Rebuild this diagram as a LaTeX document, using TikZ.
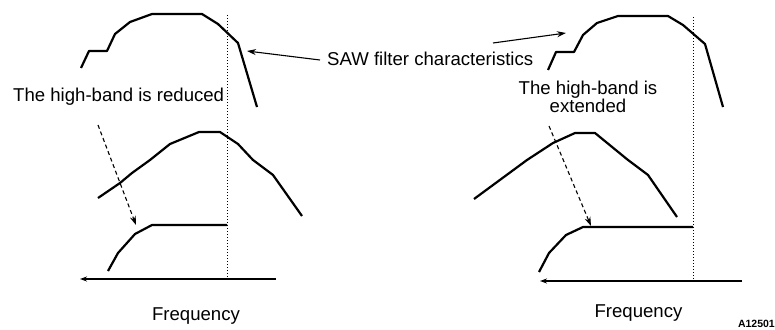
\documentclass[tikz,border=0pt]{standalone}
\usepackage{fontspec}
\setmainfont{Liberation Sans}
\usetikzlibrary{arrows.meta}
\begin{document}
\begin{tikzpicture}[x=1pt,y=-1pt,
  curve/.style={line width=2.2pt,line join=round},
  vline/.style={line width=1pt,dotted},
  axis/.style={line width=1.2pt,-{Stealth[length=7pt,width=5pt]}},
  ptr/.style={line width=1.1pt,-{Stealth[length=9pt,width=6pt]}},
  dptr/.style={line width=1.1pt,dashed,dash pattern=on 4pt off 3pt,-{Stealth[length=9pt,width=6pt]}},
  lbl/.style={font=\fontsize{18.6}{21}\selectfont,inner sep=0pt}]
\useasboundingbox (0,0) rectangle (775,329);
% ---------- left panel ----------
\draw[curve] (81,68) -- (89,51) -- (107,51) -- (115,34) -- (130,22) -- (152,14) -- (202,14) -- (218,24) -- (238,43) -- (257,107);
\draw[curve] (98,198) -- (120,183) -- (132,173) -- (150,160) -- (170,144) -- (199,132) -- (220,132) -- (238,144) -- (253,160) -- (273,175) -- (302,216);
\draw[curve] (108,271) -- (118,253) -- (135,234) -- (152,225) -- (227,225);
\coordinate (LaxR) at (276,279);
\coordinate (LaxL) at (80,279);
\draw[axis] (LaxR) -- (LaxL);
\coordinate (LvT) at (227,15);
\coordinate (LvB) at (227,279);
\draw[vline] (LvT) -- (LvB);
% ---------- right panel ----------
\draw[curve] (548,70) -- (556,52) -- (574,52) -- (583,35) -- (597,23) -- (618,16) -- (668,16) -- (683,25) -- (705,44) -- (723,107);
\draw[curve] (474,199) -- (527,160) -- (553,143) -- (575,133) -- (595,133) -- (628,160) -- (648,175) -- (677,217);
\draw[curve] (539,272) -- (549,253) -- (566,235) -- (583,227) -- (693,227);
\coordinate (RaxR) at (742,281);
\coordinate (RaxL) at (540,281);
\draw[axis] (RaxR) -- (RaxL);
\coordinate (RvT) at (693,17);
\coordinate (RvB) at (693,281);
\draw[vline] (RvT) -- (RvB);
% ---------- labels ----------
\node[lbl,anchor=base west] (saw) at (327,66) {SAW filter characteristics};
\node[lbl,anchor=base west] (red) at (13,101.5) {The high-band is reduced};
\node[lbl,align=center,anchor=base] (ext) at (588,112.7) {The high-band is\\[-2.4pt]extended};
\node[lbl,anchor=base] (f1) at (196,320) {Frequency};
\node[lbl,anchor=base] (f2) at (638.5,317) {Frequency};
\node[font=\fontsize{10.5}{12}\selectfont\bfseries,inner sep=0pt,anchor=base east] (code) at (775,327) {A12501};
% ---------- pointers ----------
\coordinate (sawL) at (247,51);
\coordinate (sawR) at (566,33);
\coordinate (sawLs) at (320,60);
\coordinate (sawRs) at (493,43);
\draw[ptr] (sawLs) -- (sawL);
\draw[ptr] (sawRs) -- (sawR);
\coordinate (dA1) at (98,125);
\coordinate (dA2) at (136,225);
\draw[dptr] (dA1) -- (dA2);
\coordinate (dB1) at (549,126);
\coordinate (dB2) at (591,226);
\draw[dptr] (dB1) -- (dB2);
\end{tikzpicture}
\end{document}
